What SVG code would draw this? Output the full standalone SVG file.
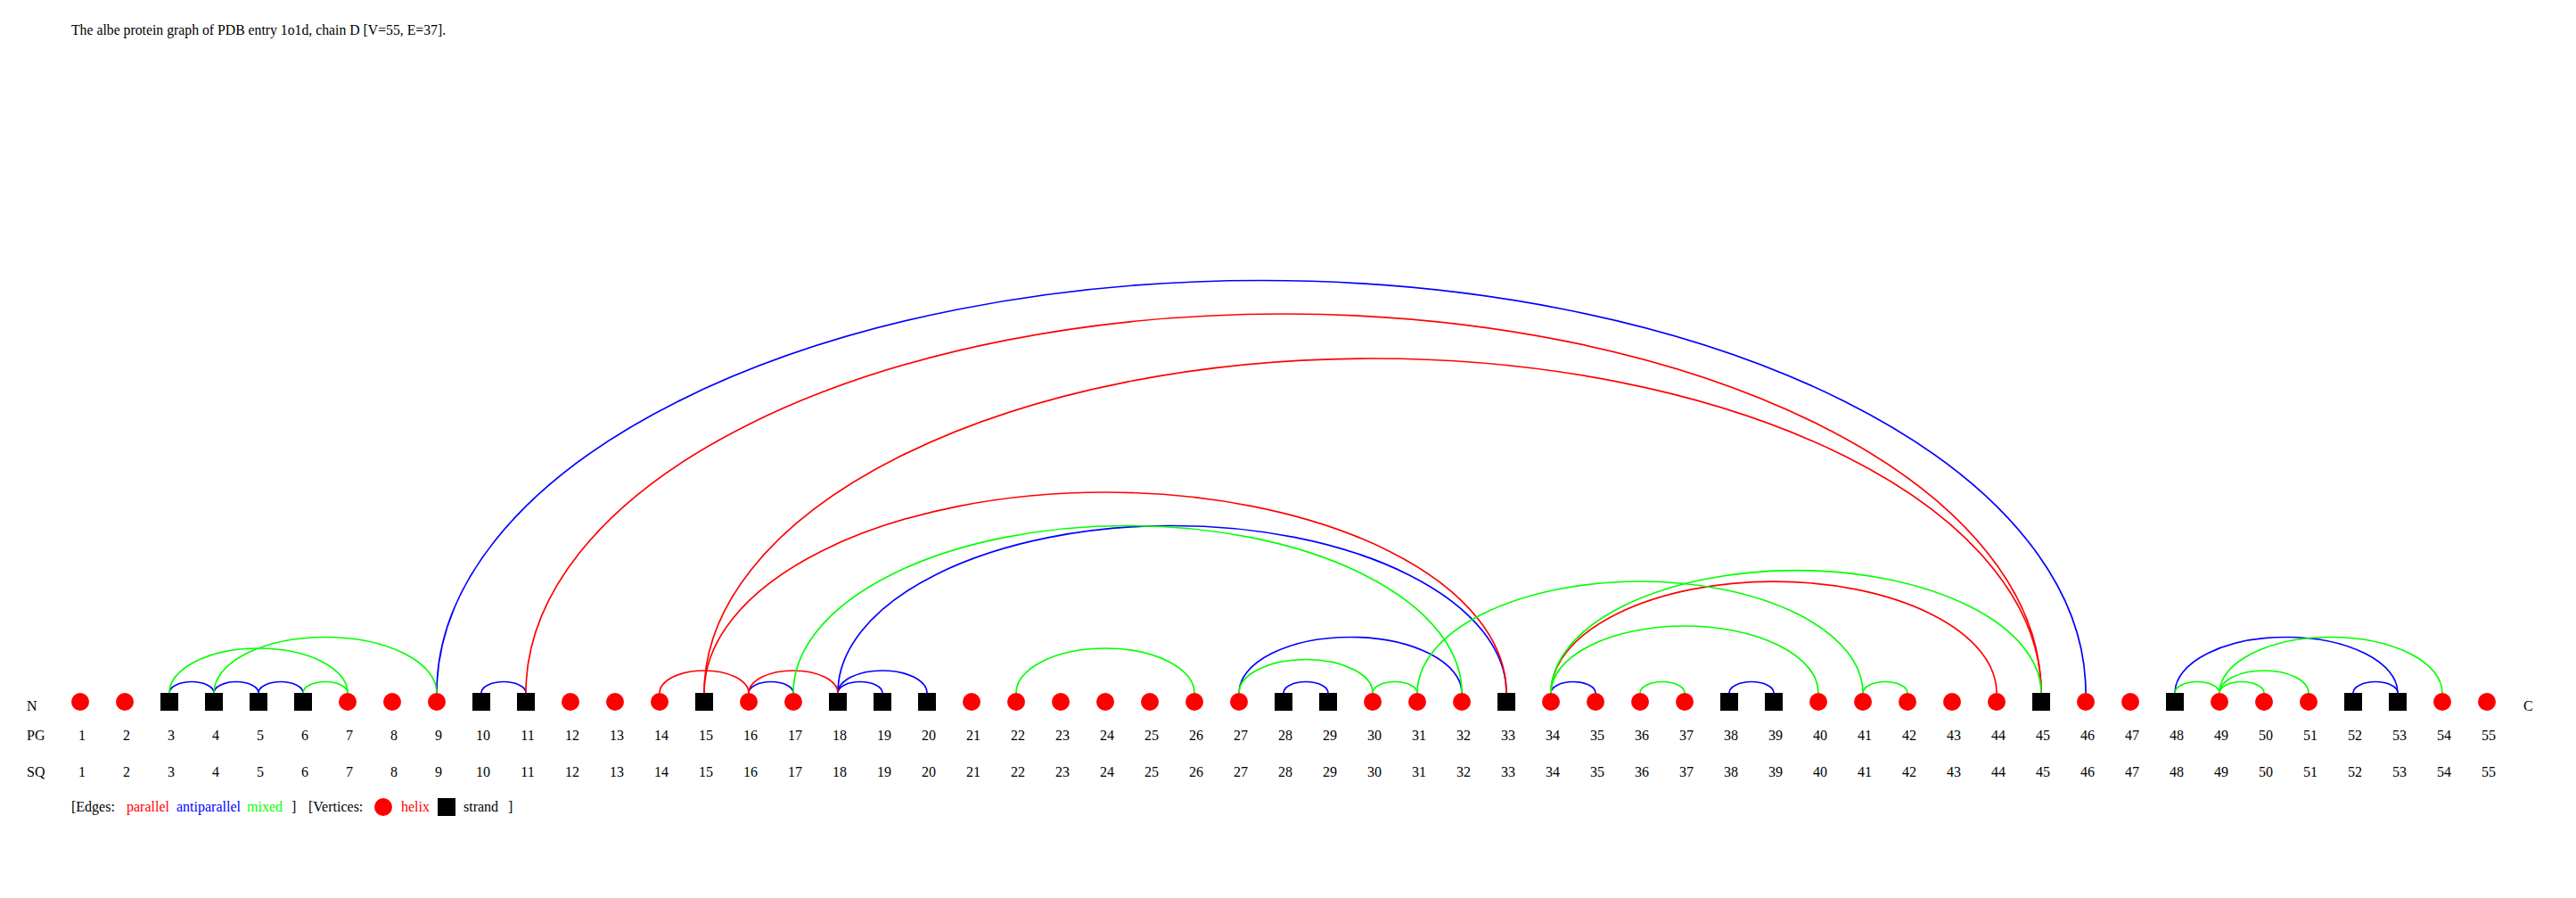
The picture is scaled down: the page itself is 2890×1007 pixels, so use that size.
<svg xmlns="http://www.w3.org/2000/svg" width="2890" height="1007" viewBox="0 0 2890 1007">
<style>
text{font-family:"Liberation Serif","Times New Roman",serif;font-size:16px;fill:#000}
.t{font-size:15.75px}
.n{text-anchor:middle}
.h{fill:#ff0000}
.s{fill:#000000}
.e path{fill:none;stroke-width:1.7}
.p{stroke:#ff0000}
.a{stroke:#0000ff}
.m{stroke:#00ff00}
</style>
<rect width="2890" height="1007" fill="#ffffff"/>
<text class="t" x="80" y="39">The albe protein graph of PDB entry 1o1d, chain D [V=55, E=37].</text>
<g id="edges" class="e">
<path class="a" d="M190 777A25 12.5 0 0 1 240 777"/>
<path class="a" d="M240 777A25 12.5 0 0 1 290 777"/>
<path class="a" d="M290 777A25 12.5 0 0 1 340 777"/>
<path class="a" d="M490 777A925 462.5 0 0 1 2340 777"/>
<path class="a" d="M540 777A25 12.5 0 0 1 590 777"/>
<path class="a" d="M840 777A25 12.5 0 0 1 890 777"/>
<path class="a" d="M940 777A25 12.5 0 0 1 990 777"/>
<path class="a" d="M940 777A50 25 0 0 1 1040 777"/>
<path class="a" d="M940 777A375 187.5 0 0 1 1690 777"/>
<path class="a" d="M1390 777A125 62.5 0 0 1 1640 777"/>
<path class="a" d="M1440 777A25 12.5 0 0 1 1490 777"/>
<path class="a" d="M1740 777A25 12.5 0 0 1 1790 777"/>
<path class="a" d="M1940 777A25 12.5 0 0 1 1990 777"/>
<path class="a" d="M2440 777A125 62.5 0 0 1 2690 777"/>
<path class="a" d="M2640 777A25 12.5 0 0 1 2690 777"/>
<path class="p" d="M590 777A850 425 0 0 1 2290 777"/>
<path class="p" d="M740 777A50 25 0 0 1 840 777"/>
<path class="p" d="M790 777A450 225 0 0 1 1690 777"/>
<path class="p" d="M790 777A750 375 0 0 1 2290 777"/>
<path class="p" d="M840 777A50 25 0 0 1 940 777"/>
<path class="p" d="M1740 777A250 125 0 0 1 2240 777"/>
<path class="m" d="M190 777A100 50 0 0 1 390 777"/>
<path class="m" d="M240 777A125 62.5 0 0 1 490 777"/>
<path class="m" d="M340 777A25 12.5 0 0 1 390 777"/>
<path class="m" d="M890 777A375 187.5 0 0 1 1640 777"/>
<path class="m" d="M1140 777A100 50 0 0 1 1340 777"/>
<path class="m" d="M1390 777A75 37.5 0 0 1 1540 777"/>
<path class="m" d="M1540 777A25 12.5 0 0 1 1590 777"/>
<path class="m" d="M1590 777A250 125 0 0 1 2090 777"/>
<path class="m" d="M1740 777A150 75 0 0 1 2040 777"/>
<path class="m" d="M1740 777A275 137.5 0 0 1 2290 777"/>
<path class="m" d="M1840 777A25 12.5 0 0 1 1890 777"/>
<path class="m" d="M2090 777A25 12.5 0 0 1 2140 777"/>
<path class="m" d="M2440 777A25 12.5 0 0 1 2490 777"/>
<path class="m" d="M2490 777A25 12.5 0 0 1 2540 777"/>
<path class="m" d="M2490 777A50 25 0 0 1 2590 777"/>
<path class="m" d="M2490 777A125 62.5 0 0 1 2740 777"/>
</g>
<g id="nodes">
<g id="n1"><circle class="h" cx="90" cy="787" r="10"/></g>
<g id="n2"><circle class="h" cx="140" cy="787" r="10"/></g>
<g id="n3"><rect class="s" x="180" y="777" width="20" height="20"/></g>
<g id="n4"><rect class="s" x="230" y="777" width="20" height="20"/></g>
<g id="n5"><rect class="s" x="280" y="777" width="20" height="20"/></g>
<g id="n6"><rect class="s" x="330" y="777" width="20" height="20"/></g>
<g id="n7"><circle class="h" cx="390" cy="787" r="10"/></g>
<g id="n8"><circle class="h" cx="440" cy="787" r="10"/></g>
<g id="n9"><circle class="h" cx="490" cy="787" r="10"/></g>
<g id="n10"><rect class="s" x="530" y="777" width="20" height="20"/></g>
<g id="n11"><rect class="s" x="580" y="777" width="20" height="20"/></g>
<g id="n12"><circle class="h" cx="640" cy="787" r="10"/></g>
<g id="n13"><circle class="h" cx="690" cy="787" r="10"/></g>
<g id="n14"><circle class="h" cx="740" cy="787" r="10"/></g>
<g id="n15"><rect class="s" x="780" y="777" width="20" height="20"/></g>
<g id="n16"><circle class="h" cx="840" cy="787" r="10"/></g>
<g id="n17"><circle class="h" cx="890" cy="787" r="10"/></g>
<g id="n18"><rect class="s" x="930" y="777" width="20" height="20"/></g>
<g id="n19"><rect class="s" x="980" y="777" width="20" height="20"/></g>
<g id="n20"><rect class="s" x="1030" y="777" width="20" height="20"/></g>
<g id="n21"><circle class="h" cx="1090" cy="787" r="10"/></g>
<g id="n22"><circle class="h" cx="1140" cy="787" r="10"/></g>
<g id="n23"><circle class="h" cx="1190" cy="787" r="10"/></g>
<g id="n24"><circle class="h" cx="1240" cy="787" r="10"/></g>
<g id="n25"><circle class="h" cx="1290" cy="787" r="10"/></g>
<g id="n26"><circle class="h" cx="1340" cy="787" r="10"/></g>
<g id="n27"><circle class="h" cx="1390" cy="787" r="10"/></g>
<g id="n28"><rect class="s" x="1430" y="777" width="20" height="20"/></g>
<g id="n29"><rect class="s" x="1480" y="777" width="20" height="20"/></g>
<g id="n30"><circle class="h" cx="1540" cy="787" r="10"/></g>
<g id="n31"><circle class="h" cx="1590" cy="787" r="10"/></g>
<g id="n32"><circle class="h" cx="1640" cy="787" r="10"/></g>
<g id="n33"><rect class="s" x="1680" y="777" width="20" height="20"/></g>
<g id="n34"><circle class="h" cx="1740" cy="787" r="10"/></g>
<g id="n35"><circle class="h" cx="1790" cy="787" r="10"/></g>
<g id="n36"><circle class="h" cx="1840" cy="787" r="10"/></g>
<g id="n37"><circle class="h" cx="1890" cy="787" r="10"/></g>
<g id="n38"><rect class="s" x="1930" y="777" width="20" height="20"/></g>
<g id="n39"><rect class="s" x="1980" y="777" width="20" height="20"/></g>
<g id="n40"><circle class="h" cx="2040" cy="787" r="10"/></g>
<g id="n41"><circle class="h" cx="2090" cy="787" r="10"/></g>
<g id="n42"><circle class="h" cx="2140" cy="787" r="10"/></g>
<g id="n43"><circle class="h" cx="2190" cy="787" r="10"/></g>
<g id="n44"><circle class="h" cx="2240" cy="787" r="10"/></g>
<g id="n45"><rect class="s" x="2280" y="777" width="20" height="20"/></g>
<g id="n46"><circle class="h" cx="2340" cy="787" r="10"/></g>
<g id="n47"><circle class="h" cx="2390" cy="787" r="10"/></g>
<g id="n48"><rect class="s" x="2430" y="777" width="20" height="20"/></g>
<g id="n49"><circle class="h" cx="2490" cy="787" r="10"/></g>
<g id="n50"><circle class="h" cx="2540" cy="787" r="10"/></g>
<g id="n51"><circle class="h" cx="2590" cy="787" r="10"/></g>
<g id="n52"><rect class="s" x="2630" y="777" width="20" height="20"/></g>
<g id="n53"><rect class="s" x="2680" y="777" width="20" height="20"/></g>
<g id="n54"><circle class="h" cx="2740" cy="787" r="10"/></g>
<g id="n55"><circle class="h" cx="2790" cy="787" r="10"/></g>
</g>
<g id="labels">
<text x="30" y="797">N</text>
<text x="2831" y="797">C</text>
<text x="30" y="830">PG</text>
<text x="30" y="871">SQ</text>
<g class="n">
<text x="92" y="830">1</text><text x="142" y="830">2</text><text x="192" y="830">3</text><text x="242" y="830">4</text><text x="292" y="830">5</text><text x="342" y="830">6</text><text x="392" y="830">7</text><text x="442" y="830">8</text><text x="492" y="830">9</text><text x="542" y="830">10</text><text x="592" y="830">11</text><text x="642" y="830">12</text><text x="692" y="830">13</text><text x="742" y="830">14</text><text x="792" y="830">15</text><text x="842" y="830">16</text><text x="892" y="830">17</text><text x="942" y="830">18</text><text x="992" y="830">19</text><text x="1042" y="830">20</text><text x="1092" y="830">21</text><text x="1142" y="830">22</text><text x="1192" y="830">23</text><text x="1242" y="830">24</text><text x="1292" y="830">25</text><text x="1342" y="830">26</text><text x="1392" y="830">27</text><text x="1442" y="830">28</text><text x="1492" y="830">29</text><text x="1542" y="830">30</text><text x="1592" y="830">31</text><text x="1642" y="830">32</text><text x="1692" y="830">33</text><text x="1742" y="830">34</text><text x="1792" y="830">35</text><text x="1842" y="830">36</text><text x="1892" y="830">37</text><text x="1942" y="830">38</text><text x="1992" y="830">39</text><text x="2042" y="830">40</text><text x="2092" y="830">41</text><text x="2142" y="830">42</text><text x="2192" y="830">43</text><text x="2242" y="830">44</text><text x="2292" y="830">45</text><text x="2342" y="830">46</text><text x="2392" y="830">47</text><text x="2442" y="830">48</text><text x="2492" y="830">49</text><text x="2542" y="830">50</text><text x="2592" y="830">51</text><text x="2642" y="830">52</text><text x="2692" y="830">53</text><text x="2742" y="830">54</text><text x="2792" y="830">55</text>
<text x="92" y="871">1</text><text x="142" y="871">2</text><text x="192" y="871">3</text><text x="242" y="871">4</text><text x="292" y="871">5</text><text x="342" y="871">6</text><text x="392" y="871">7</text><text x="442" y="871">8</text><text x="492" y="871">9</text><text x="542" y="871">10</text><text x="592" y="871">11</text><text x="642" y="871">12</text><text x="692" y="871">13</text><text x="742" y="871">14</text><text x="792" y="871">15</text><text x="842" y="871">16</text><text x="892" y="871">17</text><text x="942" y="871">18</text><text x="992" y="871">19</text><text x="1042" y="871">20</text><text x="1092" y="871">21</text><text x="1142" y="871">22</text><text x="1192" y="871">23</text><text x="1242" y="871">24</text><text x="1292" y="871">25</text><text x="1342" y="871">26</text><text x="1392" y="871">27</text><text x="1442" y="871">28</text><text x="1492" y="871">29</text><text x="1542" y="871">30</text><text x="1592" y="871">31</text><text x="1642" y="871">32</text><text x="1692" y="871">33</text><text x="1742" y="871">34</text><text x="1792" y="871">35</text><text x="1842" y="871">36</text><text x="1892" y="871">37</text><text x="1942" y="871">38</text><text x="1992" y="871">39</text><text x="2042" y="871">40</text><text x="2092" y="871">41</text><text x="2142" y="871">42</text><text x="2192" y="871">43</text><text x="2242" y="871">44</text><text x="2292" y="871">45</text><text x="2342" y="871">46</text><text x="2392" y="871">47</text><text x="2442" y="871">48</text><text x="2492" y="871">49</text><text x="2542" y="871">50</text><text x="2592" y="871">51</text><text x="2642" y="871">52</text><text x="2692" y="871">53</text><text x="2742" y="871">54</text><text x="2792" y="871">55</text>
</g>
</g>
<g id="legend">
<text x="80" y="910">[Edges:</text>
<text x="142" y="910" style="fill:#ff0000">parallel</text>
<text x="198" y="910" style="fill:#0000ff">antiparallel</text>
<text x="277" y="910" style="fill:#00ff00">mixed</text>
<text x="327" y="910">]</text>
<text x="346" y="910">[Vertices:</text>
<circle class="h" cx="430" cy="905" r="10"/>
<text x="450" y="910" style="fill:#ff0000">helix</text>
<rect class="s" x="491" y="895" width="20" height="20"/>
<text x="520" y="910">strand</text>
<text x="570" y="910">]</text>
</g>
</svg>
